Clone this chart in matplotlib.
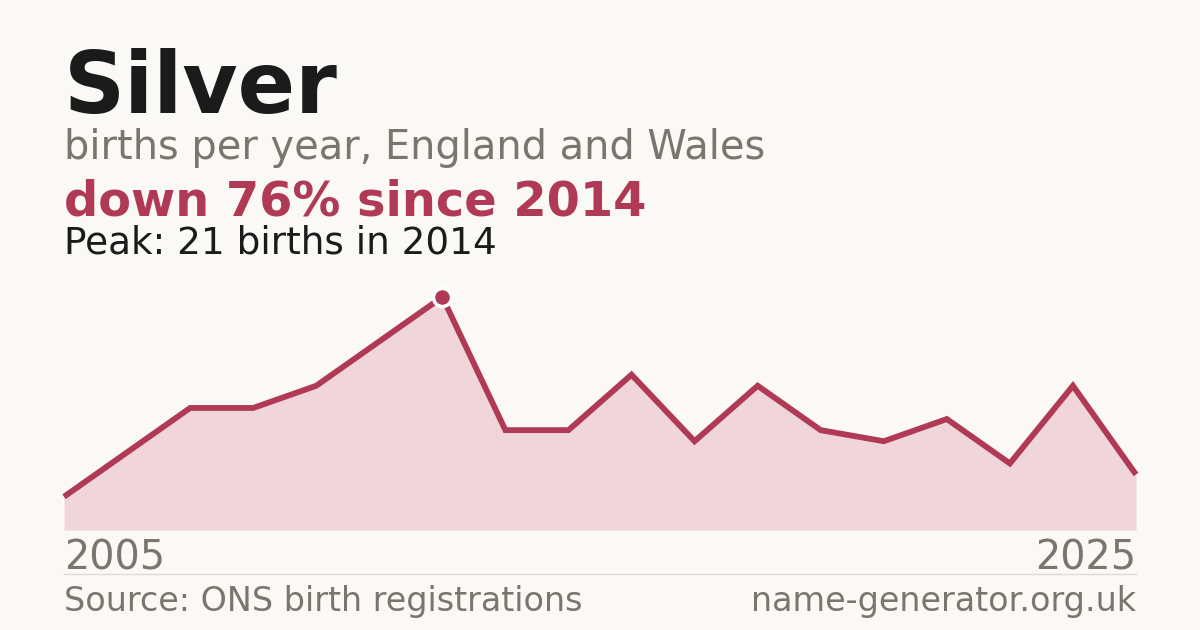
import matplotlib
matplotlib.use("Agg")
import matplotlib.pyplot as plt
import numpy as np

# Data (evenly spaced points, first/last year labels)
values = [3, 7, 11, 11, 13, 17, 21, 9, 9, 14, 8, 13, 9, 8, 10, 6, 13, 5]
start_label = "2005"
end_label = "2025"
peak_index = 6

title = "Silver"
subtitle = "births per year, England and Wales"
headline = "down 76% since 2014"
peak_text = "Peak: 21 births in 2014"
source = "Source: ONS birth registrations"
site = "name-generator.org.uk"

BG = "#faf9f5"
LINE = "#b03a55"
FILL = "#f0d5da"
GREY = "#7a756d"
DARK = "#1b1b1b"

W, H = 1200, 630
fig = plt.figure(figsize=(12, 6.3), dpi=100, facecolor=BG)

def fx(px):
    return px / W

def fy(py):
    return 1 - py / H

left, right, base, top = 64, 1136, 530, 297
ax = fig.add_axes([fx(left), fy(base), (right - left) / W, (base - top) / H])
ax.set_facecolor("none")
x = np.arange(len(values))
ax.fill_between(x, values, 0, color=FILL, lw=0, zorder=1)
ax.plot(x, values, color=LINE, lw=4.2, solid_joinstyle="miter", solid_capstyle="butt",
        zorder=2, clip_on=False)
ax.plot([x[peak_index]], [values[peak_index]], "o", ms=13, mfc=LINE, mec="white",
        mew=2.5, zorder=3, clip_on=False)
ax.set_xlim(0, len(values) - 1)
ax.set_ylim(0, max(values))
ax.axis("off")

fig.text(fx(64), fy(113), title, fontsize=61, fontweight="bold", color=DARK, va="baseline")
fig.text(fx(64), fy(159), subtitle, fontsize=28.7, color=GREY, va="baseline")
fig.text(fx(64), fy(215), headline, fontsize=34.5, fontweight="bold", color=LINE, va="baseline")
fig.text(fx(64), fy(253), peak_text, fontsize=26.9, color=DARK, va="baseline")

fig.text(fx(64), fy(569), start_label, fontsize=28.6, color=GREY, va="baseline")
fig.text(fx(1136), fy(569), end_label, fontsize=28.6, color=GREY, va="baseline", ha="right")

fig.add_artist(plt.Line2D([fx(64), fx(1136)], [fy(574), fy(574)], color="#dedbd4", lw=1))

fig.text(fx(64), fy(611), source, fontsize=24, color=GREY, va="baseline")
fig.text(fx(1136), fy(611), site, fontsize=24, color=GREY, va="baseline", ha="right")

fig.savefig("out.png", dpi=100, facecolor=BG)
